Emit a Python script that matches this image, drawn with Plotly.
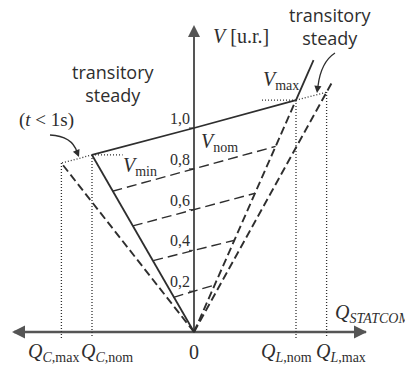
import plotly.graph_objects as go

# --- data (Q in units of the nominal reactive power, V in p.u.) ---
control_q = [-1.0, 0.0, 1.0]              # V_min -> V_nom -> V_max
control_v = [0.868, 1.0, 1.137]
cap_steady_q = [-1.0, 0.0]                # steady capacitive limit
cap_steady_v = [0.868, 0.0]
cap_trans_q = [0.0, -1.3]                 # transitory capacitive limit
cap_trans_v = [0.0, 0.828]
ind_steady_q = [0.0, 1.0]                 # steady inductive limit (dashed part)
ind_steady_v = [0.0, 1.137]
ind_steady_ext_q = [1.0, 1.172]           # solid continuation above V_max
ind_steady_ext_v = [1.137, 1.333]
ind_trans_q = [0.0, 1.353]                # transitory inductive limit
ind_trans_v = [0.0, 1.224]
trans_cap_link_q = [-1.0, -1.3]
trans_cap_link_v = [0.868, 0.828]
trans_ind_link_q = [1.0, 1.3]
trans_ind_link_v = [1.137, 1.176]
vmin_mark_q = [-1.0, -0.7]
vmin_mark_v = [0.868, 0.868]
vmax_mark_q = [0.667, 1.0]
vmax_mark_v = [1.137, 1.137]

# vertical guides for Q_C,max, Q_C,nom, Q_L,nom, Q_L,max
guide_q = [-1.3, -1.0, 1.0, 1.3]
guide_top_v = [0.828, 0.868, 1.137, 1.176]
guide_bottom_v = -0.03

# load lines crossing the V axis
load_v0 = [0.2, 0.4, 0.6, 0.8]
load_q_left = [-0.2, -0.4, -0.6, -0.8]
load_v_left = [0.17, 0.35, 0.52, 0.69]
load_q_right = [0.2, 0.4, 0.6, 0.8]
load_v_right = [0.23, 0.45, 0.68, 0.91]

tick_v = [0.2, 0.4, 0.6, 0.8, 1.0]
tick_text = ["0,2", "0,4", "0,6", "0,8", "1,0"]

q_labels = ["<i>Q</i><sub><i>C</i>,max</sub>", "<i>Q</i><sub><i>C</i>,nom</sub>", "0",
            "<i>Q</i><sub><i>L</i>,nom</sub>", "<i>Q</i><sub><i>L</i>,max</sub>"]

# --- pixel layout helpers (origin at 194,332; 102 px per Q unit, 204 px per p.u.) ---
W, H = 405, 367
OX, OY, SX, SY = 194, 332, 102.0, 204.0


def qx(px):
    return (px - OX) / SX


def vy(py):
    return (OY - py) / SY


q_label_left_px = [26, 79, 187, 259, 314]

INK = "#2e2e2e"
AXIS = "#555555"
SERIF = "Liberation Serif"
SANS = "Open Sans"

fig = go.Figure()


def line(q, v, dash="solid", width=1.8, color=INK):
    fig.add_trace(go.Scatter(x=q, y=v, mode="lines",
                             line=dict(color=color, width=width, dash=dash),
                             hoverinfo="skip"))


# axes
line([qx(14), qx(366)], [0, 0], width=2.6, color=AXIS)
line([0, 0], [0, vy(27)], width=2.0, color=AXIS)
fig.add_trace(go.Scatter(x=[qx(12), qx(367)], y=[0, 0], mode="markers",
                         marker=dict(symbol=["arrow-left", "arrow-right"], size=13, color=AXIS),
                         hoverinfo="skip"))
fig.add_trace(go.Scatter(x=[0], y=[vy(25)], mode="markers",
                         marker=dict(symbol="arrow-up", size=12, color=AXIS),
                         hoverinfo="skip"))

# ticks on V axis
for v in tick_v:
    line([qx(OX - 5), 0], [v, v], width=1.2, color=AXIS)

# guides
for q, top in zip(guide_q, guide_top_v):
    line([q, q], [top, guide_bottom_v], dash="1px,2px", width=1.3)
line(trans_cap_link_q, trans_cap_link_v, dash="1px,2px", width=1.3)
line(trans_ind_link_q, trans_ind_link_v, dash="1px,2px", width=1.3)
line(vmin_mark_q, vmin_mark_v, dash="1px,2px", width=1.3)
line(vmax_mark_q, vmax_mark_v, dash="1px,2px", width=1.3)

# load lines
for ql, vl, qr, vr, v0 in zip(load_q_left, load_v_left, load_q_right, load_v_right, load_v0):
    line([ql, 0, qr], [vl, v0, vr], dash="10px,5px", width=1.4)

# limits
line(cap_trans_q, cap_trans_v, dash="8px,4px", width=1.9)
line(ind_trans_q, ind_trans_v, dash="8px,4px", width=1.9)
line(ind_steady_q, ind_steady_v, dash="8px,4px", width=1.9)
line(ind_steady_ext_q, ind_steady_ext_v, width=1.8)
line(cap_steady_q, cap_steady_v, width=1.8)
line(control_q, control_v, width=1.8)

# curved pointer arrows
fig.add_shape(type="path", line=dict(color=INK, width=1.3),
              path=f"M {qx(50)},{vy(135)} Q {qx(72)},{vy(136)} {qx(77)},{vy(152)}")
fig.add_shape(type="path", line=dict(color=INK, width=1.3),
              path=f"M {qx(335)},{vy(53)} Q {qx(321)},{vy(62)} {qx(318)},{vy(86)}")

ann = []
ann.append(dict(x=qx(79), y=vy(157), ax=qx(76), ay=vy(150), axref="x", ayref="y",
                showarrow=True, arrowhead=2, arrowsize=1.1, arrowwidth=1.3, arrowcolor=INK, text=""))
ann.append(dict(x=qx(317), y=vy(93), ax=qx(318), ay=vy(85), axref="x", ayref="y",
                showarrow=True, arrowhead=2, arrowsize=1.1, arrowwidth=1.3, arrowcolor=INK, text=""))

# tick labels
for v, t in zip(tick_v, tick_text):
    ann.append(dict(x=qx(192), y=v, text=t, xanchor="right", yanchor="bottom", yshift=-1,
                    showarrow=False, font=dict(family=SERIF, size=16, color=INK)))

# Q labels
for px, t in zip(q_label_left_px, q_labels):
    ann.append(dict(x=qx(px), y=vy(352), text=t, xanchor="left", yanchor="middle",
                    showarrow=False, font=dict(family=SERIF, size=20, color=INK)))

ann += [
    dict(x=qx(333), y=vy(313), text="<i>Q</i><sub><i>STATCOM</i></sub>", xanchor="left",
         yanchor="middle", showarrow=False, font=dict(family=SERIF, size=20, color=INK)),
    dict(x=qx(211), y=vy(36), text="<i>V</i> [u.r.]", xanchor="left", yanchor="middle",
         showarrow=False, font=dict(family=SERIF, size=20, color=INK)),
    dict(x=qx(199), y=vy(142), text="<i>V</i><sub>nom</sub>", xanchor="left", yanchor="middle",
         showarrow=False, font=dict(family=SERIF, size=20, color=INK)),
    dict(x=qx(121), y=vy(166), text="<i>V</i><sub>min</sub>", xanchor="left", yanchor="middle",
         showarrow=False, font=dict(family=SERIF, size=20, color=INK)),
    dict(x=qx(261), y=vy(80), text="<i>V</i><sub>max</sub>", xanchor="left", yanchor="middle",
         showarrow=False, font=dict(family=SERIF, size=20, color=INK)),
    dict(x=qx(46), y=vy(120), text="(<i>t</i> < 1s)", xanchor="center", yanchor="middle",
         showarrow=False, font=dict(family=SERIF, size=19, color=INK)),
    dict(x=qx(113), y=vy(83), text="transitory<br>steady", xanchor="center", yanchor="middle",
         showarrow=False, font=dict(family=SANS, size=18, color=INK)),
    dict(x=qx(330), y=vy(26), text="transitory<br>steady", xanchor="center", yanchor="middle",
         showarrow=False, font=dict(family=SANS, size=18, color=INK)),
]

fig.update_layout(
    width=W, height=H,
    margin=dict(l=0, r=0, t=0, b=0, pad=0),
    paper_bgcolor="white", plot_bgcolor="white",
    showlegend=False,
    xaxis=dict(range=[qx(0), qx(W)], visible=False, fixedrange=True),
    yaxis=dict(range=[vy(H), vy(0)], visible=False, fixedrange=True),
    annotations=ann,
)

fig.write_html("out.html", config={"displayModeBar": False},
               post_script="document.body.style.margin='0';document.body.style.overflow='hidden';")
